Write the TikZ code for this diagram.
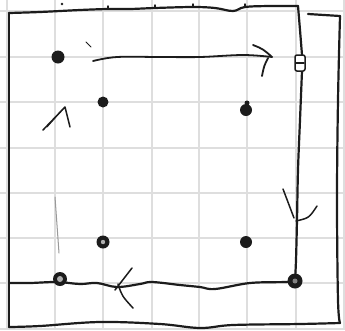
\documentclass[tikz,border=0pt]{standalone}
\definecolor{ink}{RGB}{28,28,28}
\definecolor{gridgray}{RGB}{222,222,222}
\tikzset{
  gridline/.style={draw=gridgray, line width=1.4pt},
  inkline/.style={draw=ink, line width=2.2pt, line cap=round, line join=round},
  thinink/.style={draw=ink, line width=1.5pt, line cap=round, line join=round},
  faintink/.style={draw=ink!45, line width=1pt, line cap=round},
  blob/.style={circle, fill=ink, inner sep=0pt, minimum size=#1},
  dotcentre/.style={fill=ink!35},
}
\begin{document}
\begin{tikzpicture}[x=1pt,y=-1pt]
\useasboundingbox (0,0) rectangle (345,330);
\fill[white] (0,0) rectangle (345,330);
% grid paper
\foreach \x in {7,55,103,152,199,247,296,344} \draw[gridline] (\x,0) -- (\x,330);
\foreach \y in {11,57,102,148,193,238,283,329} \draw[gridline] (0,\y) -- (345,\y);

% named corner coordinates
\coordinate (tl) at (9,13);
\coordinate (tr) at (298,6);
\coordinate (br) at (295,281);
\coordinate (bl) at (9,283);
\coordinate (obl) at (9,327);
\coordinate (obr) at (340,323);
\coordinate (otr) at (340,16);
\coordinate (otl) at (308,14);

% inner square
\draw[inkline] plot[smooth, tension=0.6] coordinates {(9,13) (40,12) (80,10) (108,9) (130,9) (155,8) (193,7) (215,8) (233,11) (245,7) (270,6) (298,6)};
\draw[inkline] plot[smooth, tension=0.6] coordinates {(298,6) (300,30) (302,55)};
\draw[inkline] plot[smooth, tension=0.6] coordinates {(302,71) (300,120) (298,170) (297,220) (296,260) (295,280)};
\draw[inkline] plot[smooth, tension=0.6] coordinates {(9,283) (30,283) (57,282) (80,284) (97,283) (117,287) (140,284) (152,282) (180,285) (200,287) (215,289) (250,283) (285,282) (295,281)};
\draw[inkline] (tl) -- (obl);
% outer frame
\draw[inkline] plot[smooth, tension=0.6] coordinates {(9,327) (40,326) (100,322) (160,324) (200,328) (233,325) (300,324) (340,323)};
\draw[inkline] plot[smooth, tension=0.6] coordinates {(340,323) (338,300) (337,200) (338,100) (340,16)};
\draw[inkline] (otl) -- (otr);

% small marks on top edge
\foreach \x/\y in {108/9,155/8,193/7,245/7} \draw[thinink] (\x,\y) -- (\x,\y-3);
\fill[ink] (62,4) circle (1.3);
\draw[thinink, line width=1pt] (86,42) -- (91,47);

% small box on right edge
\draw[thinink, fill=white, rounded corners=2pt] (295,55) rectangle (305,71);
\draw[thinink] (296,63) -- (304,63);

% dots
\node[blob=13pt] (d1) at (58,57) {};
\node[blob=11pt] (d2) at (103,102) {};
\node[blob=12pt] (d3) at (246,110) {};
\fill[ink] (247,103) circle (2.5);
\node[blob=13pt] (d4) at (103,242) {};
\fill[dotcentre] (d4) circle (2.2);
\node[blob=12pt] (d5) at (246,242) {};
\node[blob=14pt] (d6) at (60,279) {};
\fill[dotcentre] (d6) circle (3);
\node[blob=15pt] (d7) at (295,281) {};
\fill[ink!55] (d7) circle (2.5);

% top arrow (left to right)
\coordinate (ta) at (93,61);
\coordinate (tb) at (272,57);
\draw[thinink, line width=1.8pt] plot[smooth, tension=0.6] coordinates {(93,61) (117,57) (160,57) (200,57) (243,55) (272,57)};
\draw[thinink, line width=1.8pt] (253,45) .. controls (263,49) .. (tb);
\draw[thinink, line width=1.8pt] (262,76) .. controls (264,66) .. (268,58);

% left arrow (upwards)
\coordinate (la) at (59,253);
\coordinate (lb) at (55,197);
\draw[faintink] (la) -- (lb);
\coordinate (lt) at (65,107);
\draw[thinink] (43,130) -- (lt) -- (70,127);
\draw[thinink, line width=1pt] (47,127) -- (63,109);

% right arrow (downwards)
\coordinate (rt) at (296,221);
\draw[thinink] (283,189) -- (294,218);
\draw[thinink] (317,206) .. controls (309,218) .. (rt);

% bottom arrow (right to left)
\coordinate (bt) at (115,290);
\draw[thinink] (132,268) -- (bt);
\draw[thinink] (118,284) .. controls (122,296) .. (133,308);
\end{tikzpicture}
\end{document}
